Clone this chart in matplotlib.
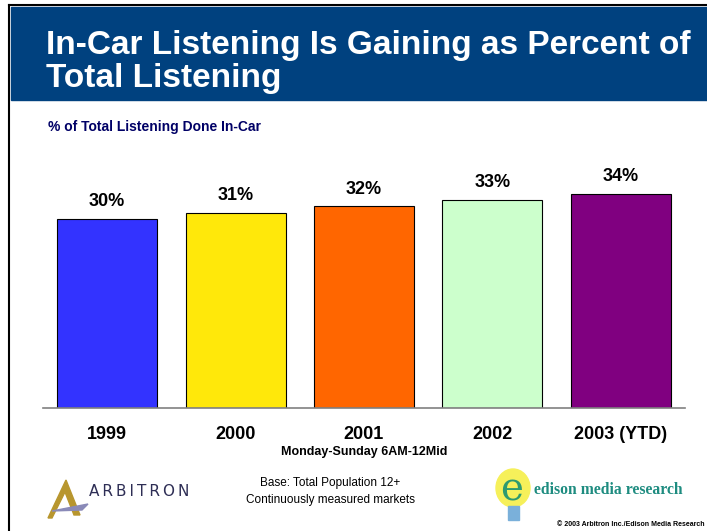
import matplotlib.pyplot as plt
from matplotlib.patches import Rectangle, Polygon, Ellipse
from matplotlib.lines import Line2D

plt.rcParams['font.family'] = ['Liberation Sans', 'DejaVu Sans']

years = ["1999", "2000", "2001", "2002", "2003 (YTD)"]
share = [30, 31, 32, 33, 34]
colors = ["#3333FF", "#FFE80A", "#FF6600", "#CCFFCC", "#800080"]

W, H = 707, 531
fig = plt.figure(figsize=(W / 100, H / 100), dpi=100)


def fx(x):
    return x / W


def fy(y):
    return 1 - y / H


# frame and title banner
fig.add_artist(Line2D([fx(9), fx(9)], [fy(5), fy(531)], color="black", lw=1.5))
fig.add_artist(Line2D([fx(9), fx(707)], [fy(5), fy(5)], color="black", lw=1.5))
fig.add_artist(Rectangle((fx(11), fy(100)), fx(707) - fx(11), fy(7) - fy(100),
                         color="#00417F", transform=fig.transFigure))
fig.text(fx(46), fy(54), "In-Car Listening Is Gaining as Percent of", color="white",
         fontsize=24, fontweight="bold", va="baseline", ha="left")
fig.text(fx(46), fy(87), "Total Listening", color="white",
         fontsize=24, fontweight="bold", va="baseline", ha="left")
fig.text(fx(48), fy(127), "% of Total Listening Done In-Car", color="#000066",
         fontsize=10, fontweight="bold", va="center", ha="left")

# bar chart
ax = fig.add_axes([fx(43), fy(408), fx(685) - fx(43), fy(156) - fy(408)])
x = range(len(years))
bars = ax.bar(x, share, width=0.78, color=colors, edgecolor="black", linewidth=0.8)
for xi, v in zip(x, share):
    ax.text(xi, v + 1.4, f"{v}%", ha="center", va="bottom", fontsize=13,
            fontweight="bold")
ax.set_xlim(-0.5, 4.5)
ax.set_ylim(0, 40)
ax.set_xticks(list(x))
ax.set_xticklabels(years, fontsize=13, fontweight="bold")
ax.tick_params(axis="x", length=0, pad=13)
ax.set_yticks([])
for side in ["top", "right", "left"]:
    ax.spines[side].set_visible(False)
ax.spines["bottom"].set_color("#808080")
ax.spines["bottom"].set_linewidth(1.2)

fig.text(fx(364), fy(452), "Monday-Sunday 6AM-12Mid", fontsize=9, fontweight="bold",
         ha="center", va="center")

# footer
fig.text(fx(330), fy(483), "Base: Total Population 12+", fontsize=8.5,
         ha="center", va="center")
fig.text(fx(330), fy(500), "Continuously measured markets", fontsize=8.5,
         ha="center", va="center")

# arbitron logo
fig.add_artist(Polygon([(fx(48), fy(518)), (fx(66), fy(480)), (fx(80), fy(515)),
                        (fx(74), fy(515)), (fx(65), fy(492)), (fx(52), fy(518))],
                       closed=True, color="#B8962E", transform=fig.transFigure))
fig.add_artist(Polygon([(fx(52), fy(511)), (fx(88), fy(504)), (fx(82), fy(510))],
                       closed=True, color="#8A8AB8", transform=fig.transFigure))
fig.text(fx(89), fy(492), "\u2009".join("ARBITRON"), fontsize=11, color="#2E2E55",
         ha="left", va="center", family=["DejaVu Sans"])

# edison logo
fig.add_artist(Ellipse((fx(513), fy(488)), fx(34), fy(0) - fy(38),
                       color="#F6F05A", transform=fig.transFigure))
fig.add_artist(Rectangle((fx(508), fy(520)), fx(11), fy(0) - fy(14),
                         color="#7AB0DA", transform=fig.transFigure))
fig.text(fx(512), fy(490), "e", fontsize=28, color="#2E9A70", ha="center", va="center",
         family=["DejaVu Serif"])
fig.text(fx(534), fy(490), "edison media research", fontsize=11.3, color="#1E8C80",
         fontweight="bold", ha="left", va="center", family=["Liberation Serif"])
fig.text(fx(705), fy(524), "\u00a9 2003 Arbitron Inc./Edison Media Research",
         fontsize=5, fontweight="bold", ha="right", va="center")

fig.savefig("out.png", dpi=100)
